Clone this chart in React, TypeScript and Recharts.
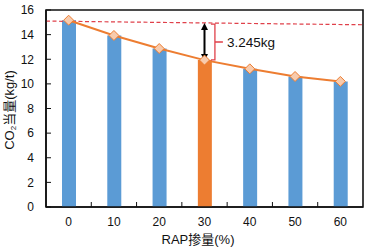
import { ComposedChart, Bar, Line, XAxis, YAxis, ReferenceLine, ReferenceArea, Cell, Label } from 'recharts'

const rapLevels = [0, 10, 20, 30, 40, 50, 60]
const co2Values = [15.17, 13.93, 12.87, 11.93, 11.22, 10.6, 10.2]
const highlightLevel = 30
const yTicks = [0, 2, 4, 6, 8, 10, 12, 14, 16]
const xTicks = [-5, 0, 5, 10, 15, 20, 25, 30, 35, 40, 45, 50, 55, 60, 65]
const baselineStart = 15.1
const baselineEnd = 14.8
const reductionText = '3.245kg'

const data = rapLevels.map((x, i) => ({ x, co2: co2Values[i] }))

const FONT = "Arial, 'Liberation Sans', 'Noto Sans CJK SC', sans-serif"

const XTick = (props: any) => {
  const { x, y, payload } = props
  const v = payload.value
  if (v % 10 === 0) {
    return (
      <text x={x} y={y + 19} textAnchor="middle" fontSize={12} fontFamily={FONT} fill="#111">
        {v}
      </text>
    )
  }
  if (v <= -5 || v >= 65) return <g />
  return <line x1={x} x2={x} y1={y} y2={y - 5} stroke="#111" strokeWidth={1} />
}

const YTick = (props: any) => {
  const { x, y, payload } = props
  return (
    <g>
      <text x={x - 12} y={y + 4.3} textAnchor="end" fontSize={12} fontFamily={FONT} fill="#111">
        {payload.value}
      </text>
      <line x1={x} x2={x + 5} y1={y} y2={y} stroke="#111" strokeWidth={1} />
    </g>
  )
}

const Diamond = (props: any) => {
  const { cx, cy, index } = props
  return (
    <path
      key={index}
      d={`M${cx} ${cy - 5}L${cx + 5} ${cy}L${cx} ${cy + 5}L${cx - 5} ${cy}Z`}
      fill="#F8CBAD"
      stroke="#ED7D31"
      strokeWidth={1}
    />
  )
}

const DoubleArrow = (props: any) => {
  const { x1, y1, y2 } = props
  const top = Math.min(y1, y2)
  const bot = Math.max(y1, y2)
  return (
    <g>
      <line x1={x1} x2={x1} y1={top + 5} y2={bot - 5} stroke="#000" strokeWidth={2} />
      <path d={`M${x1} ${top}L${x1 - 3.5} ${top + 7}L${x1 + 3.5} ${top + 7}Z`} fill="#000" />
      <path d={`M${x1} ${bot}L${x1 - 3.5} ${bot - 7}L${x1 + 3.5} ${bot - 7}Z`} fill="#000" />
    </g>
  )
}

const Bracket = (props: any) => {
  const { x1, y1, y2 } = props
  const top = Math.min(y1, y2)
  const bot = Math.max(y1, y2)
  const mid = (top + bot) / 2
  return (
    <g>
      <path
        d={`M${x1 - 4} ${top}H${x1}V${bot}H${x1 - 4}M${x1} ${mid}H${x1 + 8}`}
        fill="none"
        stroke="#E0404A"
        strokeWidth={1.3}
      />
      <text x={x1 + 12} y={mid + 5} fontSize={13.5} fontFamily={FONT} fill="#111">
        {reductionText}
      </text>
    </g>
  )
}

export default function App() {
  return (
    <div style={{ position: 'absolute', left: 0, top: 0, background: '#fff' }}>
      <ComposedChart width={367} height={247} data={data} margin={{ top: 10, right: 4, bottom: 0, left: 0 }}>
        <XAxis
          type="number"
          dataKey="x"
          domain={[-5, 65]}
          ticks={xTicks}
          interval={0}
          tick={<XTick />}
          tickLine={false}
          tickSize={0}
          tickMargin={0}
          height={40}
          axisLine={{ stroke: '#111', strokeWidth: 1.5 }}
        >
          <Label
            content={() => (
              <text x={198} y={244} textAnchor="middle" fontSize={13} fontFamily={FONT} fill="#111">
                RAP掺量(%)
              </text>
            )}
          />
        </XAxis>
        <YAxis
          domain={[0, 16]}
          ticks={yTicks}
          interval={0}
          tick={<YTick />}
          tickLine={false}
          tickSize={0}
          tickMargin={0}
          width={46}
          axisLine={{ stroke: '#111', strokeWidth: 1.5 }}
        >
          <Label
            content={() => (
              <text
                x={9}
                y={110}
                transform="rotate(-90, 9, 110)"
                textAnchor="middle"
                dominantBaseline="central"
                fontSize={13}
                fontFamily={FONT}
                fill="#111"
              >
                CO<tspan baselineShift="sub" fontSize={8}>2</tspan>当量(kg/t)
              </text>
            )}
          />
        </YAxis>
        <Bar dataKey="co2" barSize={14} isAnimationActive={false}>
          {data.map((d) => (
            <Cell key={d.x} fill={d.x === highlightLevel ? '#ED7D31' : '#5B9BD5'} />
          ))}
        </Bar>
        <ReferenceLine
          segment={[
            { x: -5, y: baselineStart },
            { x: 65, y: baselineEnd },
          ]}
          stroke="#E0404A"
          strokeWidth={1.2}
          strokeDasharray="4 2.5"
        />
        <Line
          dataKey="co2"
          stroke="#ED7D31"
          strokeWidth={2}
          dot={<Diamond />}
          activeDot={false}
          isAnimationActive={false}
        />
        <ReferenceLine
          segment={[
            { x: highlightLevel, y: 14.95 },
            { x: highlightLevel, y: 11.85 },
          ]}
          shape={<DoubleArrow />}
        />
        <ReferenceLine
          segment={[
            { x: 32.3, y: 14.85 },
            { x: 32.3, y: 11.95 },
          ]}
          shape={<Bracket />}
        />
        <ReferenceArea x1={-5} x2={65} y1={0} y2={16} fill="none" fillOpacity={0} stroke="#111" strokeWidth={1.6} />
      </ComposedChart>
    </div>
  )
}
